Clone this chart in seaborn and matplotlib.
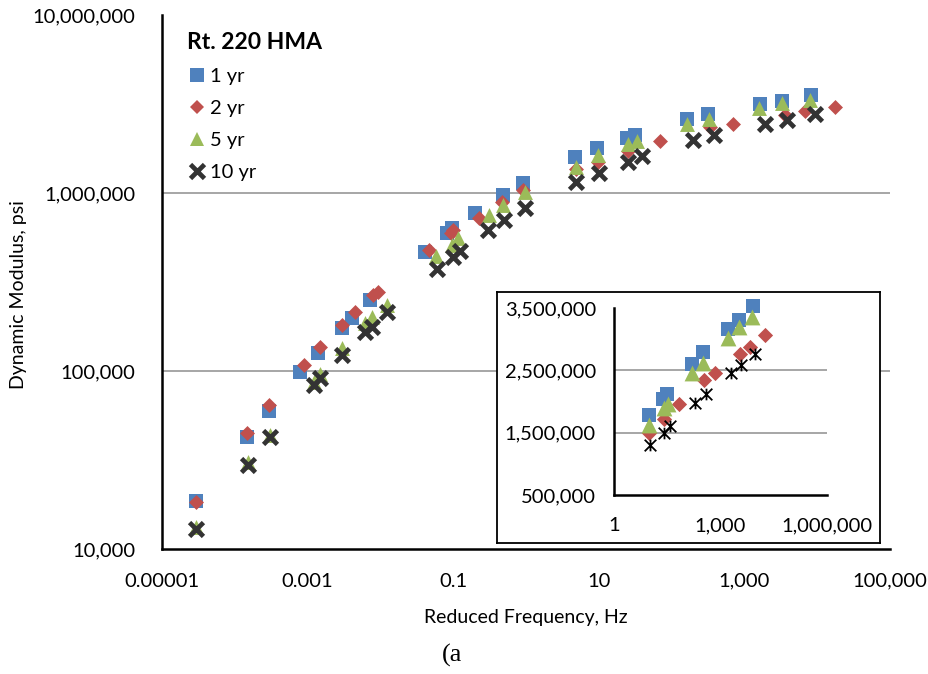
import numpy as np
import pandas as pd
import matplotlib
matplotlib.use("Agg")
import matplotlib.pyplot as plt
import seaborn as sns
from matplotlib.path import Path
from matplotlib.lines import Line2D
from matplotlib.ticker import FixedLocator, FuncFormatter, NullLocator

# ---------------- data ----------------
series_names = ["1 yr", "2 yr", "5 yr", "10 yr"]

f_1yr = [2.93e-5, 1.47e-4, 2.95e-4, 7.87e-4, 1.40e-3, 2.94e-3, 4.04e-3, 7.2e-3,
         0.041, 0.0815, 0.0953, 0.200, 0.479, 0.918, 4.71,
         9.55, 24.2, 31.4, 161, 319, 1637, 3250, 8140]
E_1yr = [18700, 42400, 59800, 99100, 125600, 174000, 198000, 251000,
         468000, 594000, 634000, 769000, 975000, 1132000, 1600000,
         1780000, 2040000, 2120000, 2600000, 2790000, 3160000, 3300000, 3530000]

f_2yr = [2.93e-5, 1.47e-4, 2.95e-4, 9.0e-4, 1.48e-3, 3.0e-3, 4.48e-3, 7.98e-3, 9.35e-3,
         0.047, 0.0925, 0.100, 0.229, 0.463, 0.91, 4.86,
         9.66, 25.4, 69.3, 337, 689, 3614, 6790, 17600]
E_2yr = [18400, 45000, 64400, 108000, 137000, 181000, 215000, 267000, 279000,
         479000, 594000, 620000, 721000, 893000, 1040000, 1359000,
         1500000, 1720000, 1960000, 2350000, 2450000, 2760000, 2880000, 3060000]

f_5yr = [2.93e-5, 1.50e-4, 3.05e-4, 1.24e-3, 1.48e-3, 3.0e-3, 6.14e-3, 7.6e-3, 1.22e-2,
         0.058, 0.0953, 0.117, 0.310, 0.487, 0.97, 4.8,
         9.84, 25.4, 33.2, 161, 327, 1602, 3250, 7960]
E_5yr = [13300, 30800, 43600, 86700, 96200, 134600, 185000, 201000, 235000,
         442000, 511000, 556000, 751000, 857000, 1016000, 1406000,
         1625000, 1895000, 1965000, 2455000, 2610000, 3020000, 3200000, 3350000]

f_10yr = [2.93e-5, 1.50e-4, 3.05e-4, 1.24e-3, 1.48e-3, 3.0e-3, 6.14e-3, 7.6e-3, 1.22e-2,
          0.0605, 0.100, 0.124, 0.303, 0.499, 0.968, 4.8,
          10.2, 25.4, 38.8, 195, 382, 1920, 3810, 9330]
E_10yr = [12900, 29600, 42400, 82900, 91400, 123000, 166000, 177000, 215000,
          372000, 438000, 474000, 620000, 705000, 820000, 1156000,
          1300000, 1500000, 1610000, 1975000, 2125000, 2455000, 2585000, 2770000]

main_yticks = [1e4, 1e5, 1e6, 1e7]
main_xticks = [1e-5, 1e-3, 1e-1, 1e1, 1e3, 1e5]
inset_xticks = [1, 1e3, 1e6]
inset_yticks = [500000, 1500000, 2500000, 3500000]
inset_min_freq = 6

df = pd.concat([
    pd.DataFrame({"freq": f_1yr, "modulus": E_1yr, "age": "1 yr"}),
    pd.DataFrame({"freq": f_2yr, "modulus": E_2yr, "age": "2 yr"}),
    pd.DataFrame({"freq": f_5yr, "modulus": E_5yr, "age": "5 yr"}),
    pd.DataFrame({"freq": f_10yr, "modulus": E_10yr, "age": "10 yr"}),
], ignore_index=True)

# ---------------- style ----------------
sns.set_theme(style="white")
plt.rcParams["font.family"] = ["Lato", "DejaVu Sans"]
plt.rcParams["text.color"] = "black"
plt.rcParams["axes.labelcolor"] = "black"
plt.rcParams["xtick.color"] = "black"
plt.rcParams["ytick.color"] = "black"

W, H = 929, 674
def fbox(l, t, r, b):
    return [l / W, 1 - b / H, (r - l) / W, (b - t) / H]

colors = {"1 yr": "#4F81BD", "2 yr": "#C0504D", "5 yr": "#9BBB59", "10 yr": "#333333"}
star = Path([(-1, -1), (1, 1), (-1, 1), (1, -1), (0, -1), (0, 1)],
            [Path.MOVETO, Path.LINETO, Path.MOVETO, Path.LINETO, Path.MOVETO, Path.LINETO])

main_style = {
    "1 yr": dict(marker="s", s=95, linewidth=0),
    "2 yr": dict(marker="D", s=58, linewidth=0),
    "5 yr": dict(marker="^", s=115, linewidth=0),
    "10 yr": dict(marker="x", s=100, linewidth=3.4),
}

fig = plt.figure(figsize=(W / 100, H / 100), dpi=100)
ax = fig.add_axes(fbox(162, 15, 890, 549))

for name in series_names:
    sub = df[df["age"] == name]
    sns.scatterplot(data=sub, x="freq", y="modulus", color=colors[name], ax=ax,
                    legend=False, zorder=3, clip_on=False, **main_style[name])

ax.set_xscale("log")
ax.set_yscale("log")
ax.set_xlim(1e-5, 1e5)
ax.set_ylim(1e4, 1e7)
for yv in main_yticks[1:-1]:
    ax.axhline(yv, color="#a6a6a6", lw=1.4, zorder=1)

def comma_fmt(v, pos=None):
    if v < 1:
        return np.format_float_positional(v, trim="-")
    return f"{v:,.0f}"

ax.xaxis.set_major_locator(FixedLocator(main_xticks))
ax.yaxis.set_major_locator(FixedLocator(main_yticks))
ax.xaxis.set_minor_locator(NullLocator())
ax.yaxis.set_minor_locator(NullLocator())
ax.xaxis.set_major_formatter(FuncFormatter(comma_fmt))
ax.yaxis.set_major_formatter(FuncFormatter(comma_fmt))
ax.tick_params(axis="y", direction="out", length=5, width=1.5, pad=14, labelsize=14.5)
ax.tick_params(axis="x", direction="inout", length=8, width=1.5, pad=13, labelsize=14.5)
for sp in ["top", "right"]:
    ax.spines[sp].set_visible(False)
for sp in ["left", "bottom"]:
    ax.spines[sp].set_color("black")
    ax.spines[sp].set_linewidth(1.8)

ax.set_xlabel("Reduced Frequency, Hz", fontsize=14)
ax.set_ylabel("Dynamic Modulus, psi", fontsize=14)
ax.xaxis.set_label_coords(0.5, -0.113)
ax.yaxis.set_label_coords(-0.186, 0.476)

handles = [Line2D([], [], linestyle="none", color=colors[n],
                  marker=main_style[n]["marker"],
                  markersize=np.sqrt(main_style[n]["s"]),
                  markeredgewidth=main_style[n]["linewidth"] if n == "10 yr" else 0)
           for n in series_names]
leg = ax.legend(handles, series_names, title="Rt. 220 HMA", loc="upper left",
                bbox_to_anchor=(187 / W, 1 - 32 / H), bbox_transform=fig.transFigure,
                frameon=False, fontsize=14.5, handlelength=1.0, handletextpad=0.15,
                labelspacing=0.74, borderpad=0, borderaxespad=0,
                title_fontproperties={"weight": "bold", "size": 16.5})
leg._legend_box.align = "left"

# ---------------- inset ----------------
box = fig.add_axes(fbox(497, 292, 880, 543))
box.set_xticks([])
box.set_yticks([])
box.set_facecolor("white")
for sp in box.spines.values():
    sp.set_color("black")
    sp.set_linewidth(1.3)

iax = fig.add_axes(fbox(614, 308, 827, 495))
iax.set_facecolor("white")
inset_style = {
    "1 yr": dict(marker="s", s=110, linewidth=0),
    "2 yr": dict(marker="D", s=60, linewidth=0),
    "5 yr": dict(marker="^", s=130, linewidth=0),
    "10 yr": dict(marker=star, s=70, linewidth=1.3, edgecolor="black"),
}
for name in series_names:
    sub = df[(df["age"] == name) & (df["freq"] > inset_min_freq)]
    c = "black" if name == "10 yr" else colors[name]
    sns.scatterplot(data=sub, x="freq", y="modulus", color=c, ax=iax,
                    legend=False, zorder=3, clip_on=False, **inset_style[name])
iax.set_xscale("log")
iax.set_xlim(1, 1e6)
iax.set_ylim(500000, 3500000)
for yv in inset_yticks[1:-1]:
    iax.axhline(yv, color="#a6a6a6", lw=1.4, zorder=1)
iax.xaxis.set_major_locator(FixedLocator(inset_xticks))
iax.yaxis.set_major_locator(FixedLocator(inset_yticks))
iax.xaxis.set_minor_locator(NullLocator())
iax.yaxis.set_minor_locator(NullLocator())
iax.xaxis.set_major_formatter(FuncFormatter(comma_fmt))
iax.yaxis.set_major_formatter(FuncFormatter(comma_fmt))
iax.tick_params(axis="y", direction="out", length=5, width=1.5, pad=8, labelsize=14.5)
iax.tick_params(axis="x", direction="out", length=5, width=1.5, pad=11, labelsize=14.5)
iax.set_xlabel("")
iax.set_ylabel("")
for sp in ["top", "right"]:
    iax.spines[sp].set_visible(False)
for sp in ["left", "bottom"]:
    iax.spines[sp].set_color("black")
    iax.spines[sp].set_linewidth(1.8)

fig.text(452 / W, 1 - 655 / H, "(a", ha="center", va="center", fontsize=19,
         family=["Liberation Serif", "DejaVu Serif"])

fig.savefig("out.png", dpi=100)
